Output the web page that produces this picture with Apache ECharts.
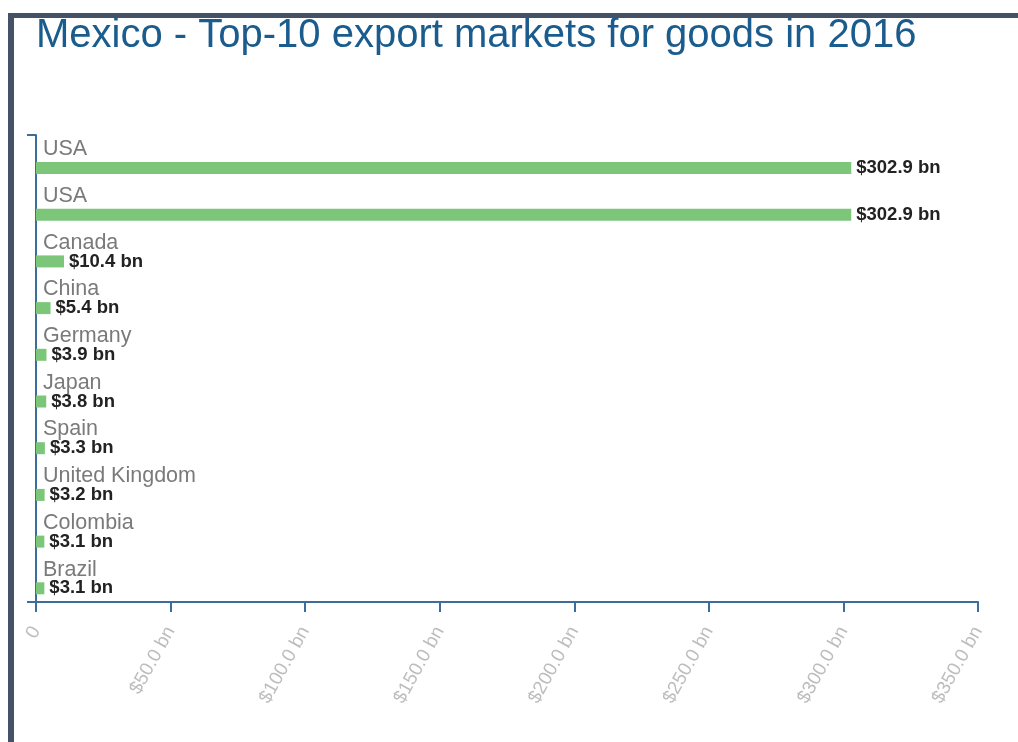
<!DOCTYPE html>
<html>
<head>
<meta charset="utf-8">
<script src="https://cdn.jsdelivr.net/npm/echarts@6/dist/echarts.min.js"></script>
<style>
  html, body { margin: 0; padding: 0; background: #fff; }
  #chart { position: absolute; left: 0; top: 0; width: 1018px; height: 742px; }
  #frame { position: absolute; left: 8px; top: 13px; right: 0; bottom: 0;
           border-left: 6px solid #445166; border-top: 5px solid #445166; pointer-events: none; }
</style>
</head>
<body>
<div id="chart"></div>
<div id="frame"></div>
<script>
// Top-10 destinations of Mexican goods exports, 2016 (US$ billions)
const categories = ['USA', 'USA', 'Canada', 'China', 'Germany', 'Japan', 'Spain', 'United Kingdom', 'Colombia', 'Brazil'];
const exportValues = [302.9, 302.9, 10.4, 5.4, 3.9, 3.8, 3.3, 3.2, 3.1, 3.1];
const axisMax = 350;
const axisStep = 50;

const FONT = '"Liberation Sans", Arial, sans-serif';
const AXIS_BLUE = '#3b6e9c';
const fmtBn = v => '$' + v.toFixed(1) + ' bn';

const chart = echarts.init(document.getElementById('chart'), null, { renderer: 'canvas' });

chart.setOption({
  animation: false,
  title: {
    text: 'Mexico - Top-10 export markets for goods in 2016',
    left: 31, top: 11,
    textStyle: { fontFamily: FONT, fontSize: 40, fontWeight: 'normal', color: '#1a5c8d' }
  },
  grid: { left: 36, right: 40, top: 135, bottom: 140, containLabel: false },
  xAxis: {
    type: 'value', min: 0, max: axisMax, interval: axisStep,
    axisLine: { show: true, lineStyle: { color: AXIS_BLUE, width: 2 } },
    axisTick: { show: true, length: 10, lineStyle: { color: AXIS_BLUE, width: 2 } },
    splitLine: { show: false },
    axisLabel: {
      rotate: 61, margin: 26, color: '#bdbdbd', fontFamily: FONT, fontSize: 19,
      formatter: v => v === 0 ? '0' : fmtBn(v)
    }
  },
  yAxis: [
    {
      type: 'category', data: categories, inverse: true,
      axisLine: { show: true, lineStyle: { color: AXIS_BLUE, width: 2 } },
      axisTick: { show: false },
      axisLabel: {
        inside: true, margin: 7, color: '#7a7a7a', fontFamily: FONT, fontSize: 21.5,
        verticalAlign: 'bottom', align: 'left', padding: [0, 0, -2, 0]
      }
    },
    {
      // end ticks at the top and bottom of the category axis
      type: 'value', min: 0, max: 1, interval: 1, position: 'left',
      axisLine: { show: false },
      axisTick: { show: true, length: 9, lineStyle: { color: AXIS_BLUE, width: 2 } },
      axisLabel: { show: false },
      splitLine: { show: false }
    }
  ],
  series: [
    {
      // empty spacer series that pushes the value bar toward the lower part of each band
      type: 'bar', yAxisIndex: 0, barWidth: 12, barGap: '61%',
      data: categories.map(() => '-'), silent: true
    },
    {
      type: 'bar', yAxisIndex: 0, barWidth: 12, barGap: '61%',
      data: exportValues,
      itemStyle: { color: '#7cc67a' },
      label: {
        show: true, position: 'right', distance: 5,
        color: '#222', fontFamily: FONT, fontSize: 18.5, fontWeight: 'bold',
        formatter: p => fmtBn(p.value)
      }
    }
  ]
});
</script>
</body>
</html>
